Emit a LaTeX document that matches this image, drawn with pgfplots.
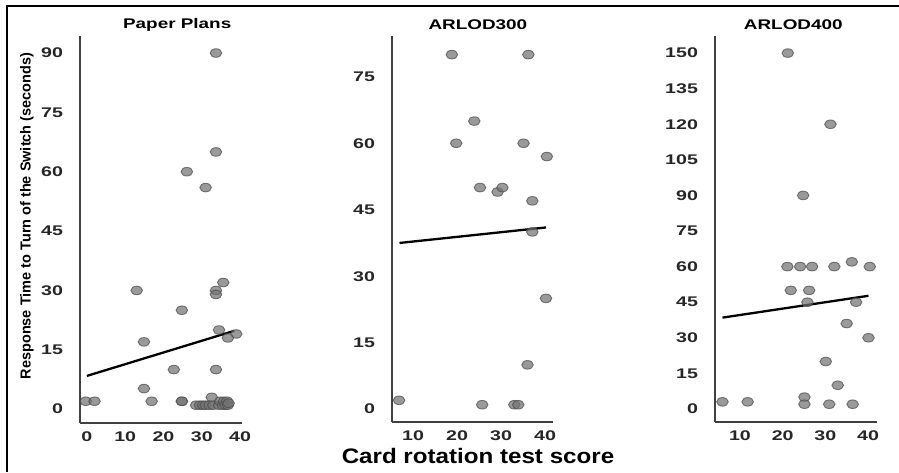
\documentclass[border=0pt]{standalone}
\usepackage{fontspec}
\setmainfont{Liberation Sans}
\usepackage{pgfplots}
\pgfplotsset{compat=1.18}

\pgfplotsset{
  panel/.style={
    anchor=south west,
    scale only axis,
    axis lines=left,
    axis line style={-, draw=black!75, line width=1.3pt},
    major tick length=0pt,
    tick label style={font=\fontsize{14}{14}\selectfont\bfseries, xscale=1.4, text=black!85},
    /pgf/number format/assume math mode=true,
    yticklabel style={inner sep=0pt, anchor=east, xshift=-12pt},
    xticklabel style={inner sep=0pt, anchor=north, yshift=-9pt},
    title style={at={(axis description cs:0.5,1)}, anchor=center, yshift=5pt,
      font=\fontsize{14}{14}\selectfont\bfseries, xscale=1.35},
    clip=false,
  },
  dots/.style={only marks, mark=*, mark size=4.3pt,
    mark options={xscale=1.35, fill=black!55, draw=black!70, line width=0.9pt, opacity=0.72}},
  fit/.style={black, line width=2.3pt, no marks},
}

\begin{document}
\begin{tikzpicture}
\path[use as bounding box] (0pt,0pt) rectangle (899pt,472pt);
\draw[line width=1.3pt] (7pt,0pt) -- (7pt,466pt) -- (899pt,466pt);

% Paper Plans
\begin{axis}[panel, at={(80pt,49pt)}, width=162pt, height=387pt,
  xmin=-1.8, xmax=40.5, ymin=-3.5, ymax=94.3,
  xtick={0,10,20,30,40}, ytick={0,15,30,45,60,75,90},
  title={Paper Plans}, title style={xshift=12pt}]
\addplot[dots] coordinates {
  (33.7,90) (33.7,65) (26.1,60) (31,56) (13,30) (33.7,30) (33.7,29) (35.6,32)
  (24.8,25) (14.9,17) (34.5,20) (39,19) (36.8,18) (22.7,10) (33.7,10) (14.9,5.2)
  (32.6,3) (-0.3,2) (2,2) (16.9,2) (24.8,2) (24.8,2) (28.5,1) (29.5,1) (30.3,1)
  (31,1) (32,1) (33,1) (34.5,1) (34.8,2) (35.5,1) (35.8,2) (36.2,1) (36.6,2)
  (36.8,1) (37,1.5)
};
\addplot[fit] coordinates {(0,8.4) (38.5,19.8)};
\end{axis}

% ARLOD300
\begin{axis}[panel, at={(392pt,50pt)}, width=161pt, height=386pt,
  xmin=5.2, xmax=41.8, ymin=-2.9, ymax=84.2,
  xtick={10,20,30,40}, ytick={0,15,30,45,60,75},
  title={ARLOD300}, title style={xshift=4pt}]
\addplot[dots] coordinates {
  (18.8,80) (36.2,80) (23.9,65) (19.8,60) (35.1,60) (40.4,57) (25.2,50) (29.2,49)
  (30.3,50) (37.1,47) (37.1,40) (40.2,25) (36,10) (6.8,2) (25.7,1) (33,1) (33.9,1)
};
\addplot[fit] coordinates {(6.9,37.5) (40.2,41)};
\end{axis}

% ARLOD400
\begin{axis}[panel, at={(715pt,50pt)}, width=162pt, height=386pt,
  xmin=4.15, xmax=42.1, ymin=-5.5, ymax=157.2,
  xtick={10,20,30,40}, ytick={0,15,...,150},
  title={ARLOD400}, title style={xshift=-2pt}]
\addplot[dots] coordinates {
  (21.2,150) (31.2,120) (24.8,90) (21.1,60) (24.1,60) (26.9,60) (32.1,60) (40.4,60)
  (36.2,62) (21.9,50) (26.2,50) (25.8,45) (37.2,45) (35,36) (40.1,30) (30.1,20)
  (32.9,10) (5.9,3) (11.8,3) (25.1,5) (25.1,2) (30.9,2) (36.4,2)
};
\addplot[fit] coordinates {(5.9,38.5) (40.1,47.7)};
\end{axis}

\node[font=\fontsize{21}{21}\selectfont\bfseries, xscale=1.15] at (478pt,16pt) {Card rotation test score};
\node[font=\fontsize{14.5}{14.5}\selectfont\bfseries, rotate=90] at (27pt,256pt) {Response Time to Turn of the Switch (seconds)};
\end{tikzpicture}
\end{document}
